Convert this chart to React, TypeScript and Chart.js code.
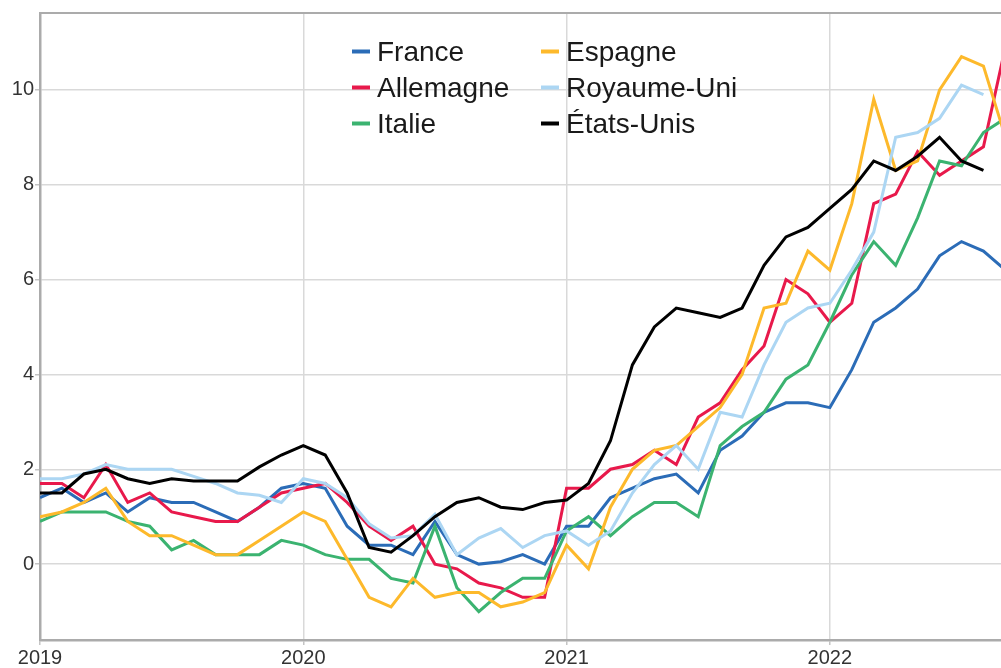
import React, { useEffect, useRef } from 'react';
import { Chart, registerables } from 'chart.js';

Chart.register(...registerables);

// Monthly series, starting January 2019
const startYear = 2019;

const france = [
  1.4, 1.6, 1.3, 1.5, 1.1, 1.4, 1.3, 1.3, 1.1, 0.9, 1.2, 1.6,
  1.7, 1.6, 0.8, 0.4, 0.4, 0.2, 0.9, 0.2, 0.0, 0.05, 0.2, 0.0,
  0.8, 0.8, 1.4, 1.6, 1.8, 1.9, 1.5, 2.4, 2.7, 3.2, 3.4, 3.4,
  3.3, 4.1, 5.1, 5.4, 5.8, 6.5, 6.8, 6.6, 6.2,
];
const allemagne = [
  1.7, 1.7, 1.4, 2.1, 1.3, 1.5, 1.1, 1.0, 0.9, 0.9, 1.2, 1.5,
  1.6, 1.7, 1.3, 0.8, 0.5, 0.8, 0.0, -0.1, -0.4, -0.5, -0.7, -0.7,
  1.6, 1.6, 2.0, 2.1, 2.4, 2.1, 3.1, 3.4, 4.1, 4.6, 6.0, 5.7,
  5.1, 5.5, 7.6, 7.8, 8.7, 8.2, 8.5, 8.8, 10.9,
];
const italie = [
  0.9, 1.1, 1.1, 1.1, 0.9, 0.8, 0.3, 0.5, 0.2, 0.2, 0.2, 0.5,
  0.4, 0.2, 0.1, 0.1, -0.3, -0.4, 0.8, -0.5, -1.0, -0.6, -0.3, -0.3,
  0.7, 1.0, 0.6, 1.0, 1.3, 1.3, 1.0, 2.5, 2.9, 3.2, 3.9, 4.2,
  5.1, 6.1, 6.8, 6.3, 7.3, 8.5, 8.4, 9.1, 9.4,
];
const espagne = [
  1.0, 1.1, 1.3, 1.6, 0.9, 0.6, 0.6, 0.4, 0.2, 0.2, 0.5, 0.8,
  1.1, 0.9, 0.1, -0.7, -0.9, -0.3, -0.7, -0.6, -0.6, -0.9, -0.8, -0.6,
  0.4, -0.1, 1.2, 2.0, 2.4, 2.5, 2.9, 3.3, 4.0, 5.4, 5.5, 6.6,
  6.2, 7.6, 9.8, 8.3, 8.5, 10.0, 10.7, 10.5, 9.0,
];
const royaumeUni = [
  1.8, 1.8, 1.9, 2.1, 2.0, 2.0, 2.0, 1.85, 1.7, 1.5, 1.45, 1.3,
  1.8, 1.7, 1.4, 0.85, 0.55, 0.6, 1.05, 0.2, 0.55, 0.75, 0.35, 0.6,
  0.7, 0.4, 0.7, 1.5, 2.1, 2.5, 2.0, 3.2, 3.1, 4.2, 5.1, 5.4,
  5.5, 6.2, 7.0, 9.0, 9.1, 9.4, 10.1, 9.9,
];
const etatsUnis = [
  1.5, 1.5, 1.9, 2.0, 1.8, 1.7, 1.8, 1.75, 1.75, 1.75, 2.05, 2.3,
  2.5, 2.3, 1.5, 0.35, 0.25, 0.6, 1.0, 1.3, 1.4, 1.2, 1.15, 1.3,
  1.35, 1.7, 2.6, 4.2, 5.0, 5.4, 5.3, 5.2, 5.4, 6.3, 6.9, 7.1,
  7.5, 7.9, 8.5, 8.3, 8.6, 9.0, 8.5, 8.3,
];

const seriesNames = ['France', 'Allemagne', 'Italie', 'Espagne', 'Royaume-Uni', 'États-Unis'];
const seriesValues = [france, allemagne, italie, espagne, royaumeUni, etatsUnis];
const seriesColors = ['#2b6cb7', '#e8194b', '#3bb370', '#fdb92b', '#acd6f3', '#000000'];

const xTickYears = [2019, 2020, 2021, 2022];
const yTickValues = [0, 2, 4, 6, 8, 10];

const FONT = '"Liberation Sans", Arial, Helvetica, sans-serif';

const toPoints = (vals: number[]) => vals.map((v, i) => ({ x: startYear + i / 12, y: v }));

const framePlugin = {
  id: 'frameTop',
  beforeDatasetsDraw(chart: any) {
    const { ctx, chartArea } = chart;
    ctx.save();
    ctx.strokeStyle = '#ababab';
    ctx.lineWidth = 2;
    ctx.beginPath();
    ctx.moveTo(chartArea.left, chartArea.top);
    ctx.lineTo(chartArea.right, chartArea.top);
    ctx.stroke();
    ctx.restore();
  },
};

const legendPlugin = {
  id: 'gridLegend',
  afterDraw(chart: any) {
    const { ctx } = chart;
    const cols = [352, 541];
    const baselines = [61, 97, 133];
    ctx.save();
    ctx.font = `28px ${FONT}`;
    ctx.textBaseline = 'alphabetic';
    ctx.textAlign = 'left';
    chart.data.datasets.forEach((ds: any, i: number) => {
      const col = Math.floor(i / 3);
      const row = i % 3;
      const x = cols[col];
      const y = baselines[row];
      ctx.strokeStyle = ds.borderColor;
      ctx.lineWidth = 4;
      ctx.beginPath();
      ctx.moveTo(x, y - 9.5);
      ctx.lineTo(x + 18, y - 9.5);
      ctx.stroke();
      ctx.fillStyle = '#1a1a1a';
      ctx.fillText(ds.label, x + 25, y);
    });
    ctx.restore();
  },
};

export default function App() {
  const canvasRef = useRef<HTMLCanvasElement | null>(null);

  useEffect(() => {
    if (!canvasRef.current) return;
    const chart = new Chart(canvasRef.current, {
      type: 'line',
      data: {
        datasets: seriesNames.map((name, i) => ({
          label: name,
          data: toPoints(seriesValues[i]),
          borderColor: seriesColors[i],
          backgroundColor: seriesColors[i],
          borderWidth: 3,
          pointRadius: 0,
          tension: 0,
          order: seriesNames.length - i,
        })),
      },
      options: {
        animation: false,
        responsive: true,
        maintainAspectRatio: false,
        layout: { padding: { top: 10, left: 0, right: 0, bottom: 0 } },
        plugins: {
          legend: { display: false },
          tooltip: { enabled: false },
          title: { display: false },
        },
        scales: {
          x: {
            type: 'linear',
            min: 2019,
            max: 2022.65,
            afterFit: (scale: any) => {
              scale.height = 28;
            },
            afterBuildTicks: (axis: any) => {
              axis.ticks = xTickYears.map((v) => ({ value: v }));
            },
            ticks: {
              callback: (v: any) => String(v),
              font: { family: FONT, size: 20 },
              color: '#333333',
              padding: 1,
              maxRotation: 0,
              autoSkip: false,
            },
            grid: {
              color: '#d9d9d9',
              lineWidth: 1.5,
              tickLength: 5,
              tickColor: '#c4c4c4',
            },
            border: { color: '#ababab', width: 2.5 },
          },
          y: {
            type: 'linear',
            min: -1.6,
            max: 11.62,
            afterFit: (scale: any) => {
              scale.width = 40;
            },
            afterBuildTicks: (axis: any) => {
              axis.ticks = yTickValues.map((v) => ({ value: v }));
            },
            ticks: {
              callback: (v: any) => String(v),
              font: { family: FONT, size: 20 },
              color: '#333333',
              padding: 1,
            },
            grid: {
              color: '#d9d9d9',
              lineWidth: 1.5,
              tickLength: 5,
              tickColor: '#c4c4c4',
            },
            border: { color: '#ababab', width: 2.5 },
          },
        },
      },
      plugins: [framePlugin, legendPlugin],
    });
    return () => chart.destroy();
  }, []);

  return (
    <div style={{ position: 'absolute', left: 0, top: 0, width: 1001, height: 668, overflow: 'hidden', background: '#ffffff' }}>
      <canvas ref={canvasRef} />
    </div>
  );
}
